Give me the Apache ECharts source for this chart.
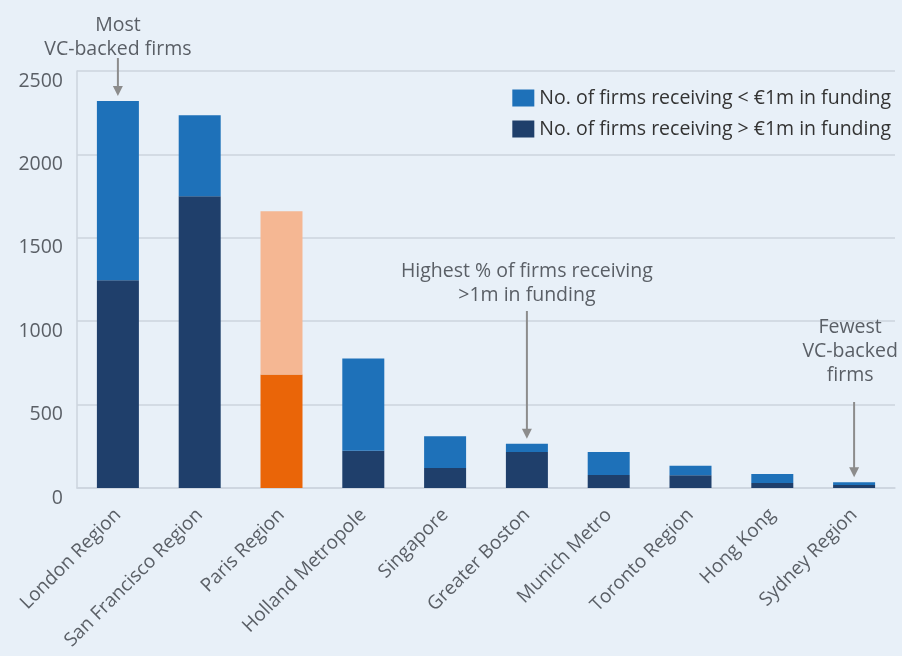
<!DOCTYPE html>
<html>
<head>
<meta charset="utf-8">
<script src="https://cdn.jsdelivr.net/npm/echarts@6/dist/echarts.min.js"></script>
<style>
  html, body { margin: 0; padding: 0; background: #e8f0f8; }
  #chart { width: 902px; height: 656px; }
</style>
</head>
<body>
<div id="chart"></div>
<script>
  // regions, ordered by number of VC-backed firms
  const cities = ['London Region', 'San Francisco Region', 'Paris Region', 'Holland Metropole',
    'Singapore', 'Greater Boston', 'Munich Metro', 'Toronto Region', 'Hong Kong', 'Sydney Region']
  // firms receiving > €1m (bottom, dark)
  const overOneM = [1245, 1749, 680, 224, 120, 216, 78, 76, 30, 18]
  // firms receiving < €1m (top, light)
  const underOneM = [1075, 485, 979, 552, 190, 50, 138, 58, 54, 16]
  const yTicks = [0, 500, 1000, 1500, 2000, 2500]

  const nameUnder = 'No. of firms receiving < €1m in funding'
  const nameOver = 'No. of firms receiving > €1m in funding'
  const highlight = 'Paris Region'

  const FONT = 'Open Sans'
  const TXT = '#5a5f66'
  const GRID = '#cdd5de'

  const chart = echarts.init(document.getElementById('chart'))

  // Paris gets its own orange colours
  const overData = overOneM.map((v, i) => cities[i] === highlight
    ? { value: v, itemStyle: { color: '#ea6508' } } : v)
  const underData = underOneM.map((v, i) => cities[i] === highlight
    ? { value: v, itemStyle: { color: '#f5b793' } } : v)

  chart.setOption({
    backgroundColor: '#e8f0f8',
    animation: false,
    textStyle: { fontFamily: FONT },
    grid: { left: 77, right: 7, top: 71, bottom: 168 },
    legend: {
      orient: 'vertical',
      right: 6,
      top: 83,
      itemWidth: 22,
      itemHeight: 17,
      itemGap: 11,
      itemStyle: { borderWidth: 0 },
      icon: 'rect',
      data: [nameUnder, nameOver],
      textStyle: { fontFamily: FONT, fontSize: 19.5, color: '#333' }
    },
    xAxis: {
      type: 'category',
      data: cities,
      axisTick: { show: false },
      axisLine: { lineStyle: { color: GRID, width: 1.5 } },
      axisLabel: {
        rotate: 45,
        interval: 0,
        margin: 24,
        fontSize: 19,
        color: TXT,
        fontFamily: FONT
      }
    },
    yAxis: {
      type: 'value',
      min: yTicks[0],
      max: yTicks[yTicks.length - 1],
      interval: 500,
      axisLine: { show: true, lineStyle: { color: GRID, width: 1.5 } },
      splitLine: { lineStyle: { color: GRID, width: 1.5 } },
      axisLabel: {
        fontSize: 19.5,
        color: TXT,
        margin: 14,
        verticalAlign: 'top',
        formatter: v => String(v),
        fontFamily: FONT
      }
    },
    series: [
      {
        name: nameOver,
        type: 'bar',
        stack: 'all',
        barWidth: 42,
        itemStyle: { color: '#1f3f6b' },
        data: overData
      },
      {
        name: nameUnder,
        type: 'bar',
        stack: 'all',
        barWidth: 42,
        itemStyle: { color: '#1e71b9' },
        data: underData
      }
    ]
  })

  // annotations with arrows, placed from the axes
  function total(i) { return overOneM[i] + underOneM[i] }
  const notes = [
    { idx: 0, text: 'Most\nVC-backed firms', textTop: 13, arrowFrom: 58 },
    { idx: 5, text: 'Highest % of firms receiving\n>1m in funding', textTop: 259, arrowFrom: 311 },
    { idx: 9, text: 'Fewest\nVC-backed\nfirms', textTop: 315, arrowFrom: 402, dx: -4 }
  ]
  const graphics = []
  notes.forEach(n => {
    const p = chart.convertToPixel({ xAxisIndex: 0, yAxisIndex: 0 }, [cities[n.idx], total(n.idx)])
    const x = p[0]
    const tipY = p[1] - 5
    graphics.push({
      type: 'text',
      x: x + (n.dx || 0),
      y: n.textTop,
      style: {
        text: n.text,
        align: 'center',
        fontSize: 19.5,
        lineHeight: 24,
        fill: TXT,
        fontFamily: FONT
      }
    })
    graphics.push({
      type: 'line',
      shape: { x1: x, y1: n.arrowFrom, x2: x, y2: tipY - 8 },
      style: { stroke: '#8c8c8c', lineWidth: 2 }
    })
    graphics.push({
      type: 'polygon',
      shape: { points: [[x - 5, tipY - 10], [x + 5, tipY - 10], [x, tipY]] },
      style: { fill: '#8c8c8c' }
    })
  })
  chart.setOption({ graphic: graphics })
</script>
</body>
</html>
